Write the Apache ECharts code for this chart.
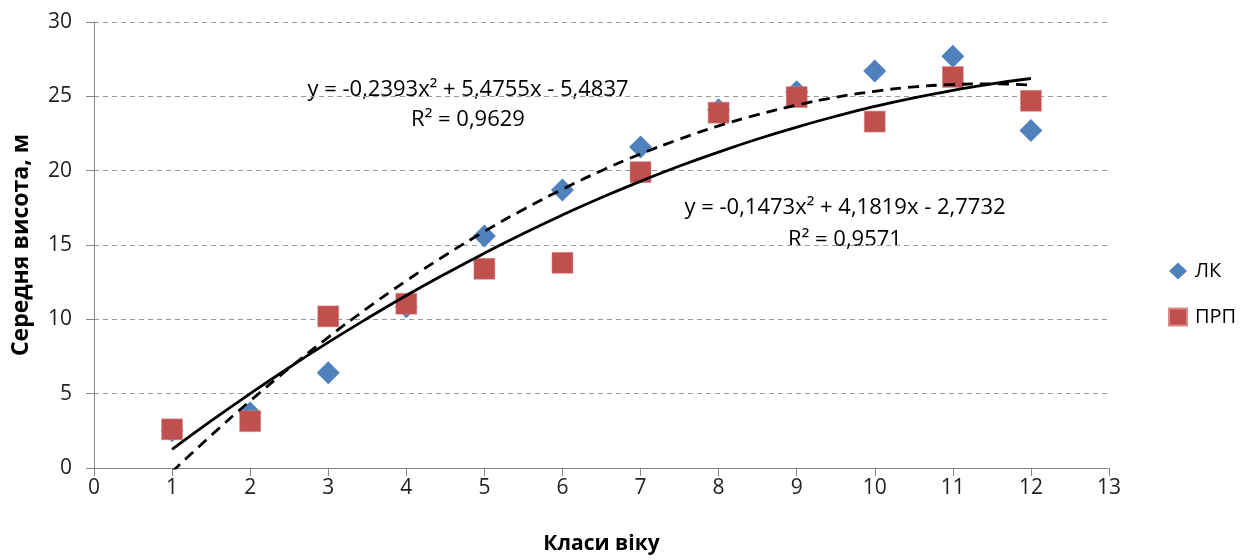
<!DOCTYPE html>
<html>
<head>
<meta charset="utf-8">
<script src="https://cdn.jsdelivr.net/npm/echarts@6/dist/echarts.min.js"></script>
<style>html,body{margin:0;padding:0;background:#fff;}#c{width:1251px;height:560px;}</style>
</head>
<body>
<div id="c"></div>
<script>
var xClasses = [1, 2, 3, 4, 5, 6, 7, 8, 9, 10, 11, 12];
var lkValues = [2.5, 3.7, 6.4, 10.85, 15.6, 18.7, 21.6, 24.1, 25.3, 26.7, 27.7, 22.7];
var prpValues = [2.6, 3.15, 10.2, 11.05, 13.4, 13.8, 19.9, 23.9, 24.95, 23.3, 26.3, 24.7];
// trend line points (as drawn in the picture)
var trendX = [1, 1.5, 2, 2.5, 3, 3.5, 4, 4.5, 5, 5.5, 6, 6.5, 7, 7.5, 8, 8.5, 9, 9.5, 10, 10.5, 11, 11.5, 12];
var trendDashed = [-0.25, 2.19, 4.51, 6.71, 8.79, 10.75, 12.59, 14.31, 15.91, 17.39, 18.75, 20.00, 21.12, 22.12, 23.01, 23.77, 24.41, 24.94, 25.34, 25.63, 25.79, 25.84, 25.76];
var trendSolid = [1.26, 3.17, 5.00, 6.76, 8.45, 10.06, 11.60, 13.06, 14.45, 15.77, 17.02, 18.19, 19.28, 20.31, 21.25, 22.13, 22.93, 23.66, 24.32, 24.90, 25.40, 25.84, 26.20];
var eq1 = ['y = -0,2393x² + 5,4755x - 5,4837', 'R² = 0,9629'];
var eq2 = ['y = -0,1473x² + 4,1819x - 2,7732', 'R² = 0,9571'];
var xTitle = 'Класи віку';
var yTitle = 'Середня висота, м';

function pairs(xs, ys) { return xs.map(function (x, i) { return [x, ys[i]]; }); }

var font = '"Open Sans", "Noto Sans", sans-serif';
var chart = echarts.init(document.getElementById('c'));
chart.setOption({
  animation: false,
  textStyle: { fontFamily: font },
  grid: { left: 94, right: 142, top: 22, bottom: 90 },
  legend: {
    orient: 'vertical', left: 1163, top: 256,
    itemGap: 26, itemWidth: 18, itemHeight: 17,
    textStyle: { fontSize: 20, color: '#000', fontFamily: font, padding: [0, 0, 0, 3] },
    data: [{ name: 'ЛК', icon: 'diamond' }, { name: 'ПРП', icon: 'rect' }]
  },
  xAxis: {
    type: 'value', min: 0, max: 13, interval: 1,
    name: xTitle, nameLocation: 'middle', nameGap: 66,
    nameTextStyle: { fontSize: 21, fontWeight: 'bold', color: '#000', fontFamily: font },
    axisLine: { show: true, lineStyle: { color: '#868686', width: 1 } },
    axisTick: { show: true, length: 8, lineStyle: { color: '#868686' } },
    axisLabel: { fontSize: 21, color: '#222', margin: 10, fontFamily: font },
    splitLine: { show: false }
  },
  yAxis: {
    type: 'value', min: 0, max: 30, interval: 5,
    name: yTitle, nameLocation: 'middle', nameGap: 61, nameRotate: 90,
    nameTextStyle: { fontSize: 23, fontWeight: 'bold', color: '#000', fontFamily: font },
    axisLine: { show: true, lineStyle: { color: '#868686', width: 1 } },
    axisTick: { show: true, length: 8, lineStyle: { color: '#868686' } },
    axisLabel: { fontSize: 21, color: '#222', margin: 22, fontFamily: font },
    splitLine: { show: true, lineStyle: { color: '#9a9a9a', type: [5, 4], width: 1 } }
  },
  series: [
    {
      name: 'ЛК', type: 'scatter', symbol: 'diamond', symbolSize: 23, z: 2,
      itemStyle: { color: '#4F81BD', opacity: 1 },
      data: pairs(xClasses, lkValues)
    },
    {
      name: 'ПРП', type: 'scatter', symbol: 'rect', symbolSize: 21, z: 3,
      itemStyle: { color: '#C0504D', opacity: 1, borderColor: '#d88a88', borderWidth: 0.5 },
      data: pairs(xClasses, prpValues)
    },
    {
      name: 'trendDashed', type: 'line', smooth: true, showSymbol: false, symbol: 'none', z: 4,
      lineStyle: { color: '#000', width: 2.8, type: [11, 7] },
      data: pairs(trendX, trendDashed)
    },
    {
      name: 'trendSolid', type: 'line', smooth: true, showSymbol: false, symbol: 'none', z: 4,
      lineStyle: { color: '#000', width: 2.8 },
      data: pairs(trendX, trendSolid)
    }
  ],
  graphic: [
    { type: 'text', x: 468, y: 90, style: { text: eq1[0], align: 'center', verticalAlign: 'middle', fontSize: 22, fill: '#000', fontFamily: font } },
    { type: 'text', x: 468, y: 120, style: { text: eq1[1], align: 'center', verticalAlign: 'middle', fontSize: 22, fill: '#000', fontFamily: font } },
    { type: 'text', x: 845, y: 208, style: { text: eq2[0], align: 'center', verticalAlign: 'middle', fontSize: 22, fill: '#000', fontFamily: font } },
    { type: 'text', x: 845, y: 240, style: { text: eq2[1], align: 'center', verticalAlign: 'middle', fontSize: 22, fill: '#000', fontFamily: font } }
  ]
});
</script>
</body>
</html>
